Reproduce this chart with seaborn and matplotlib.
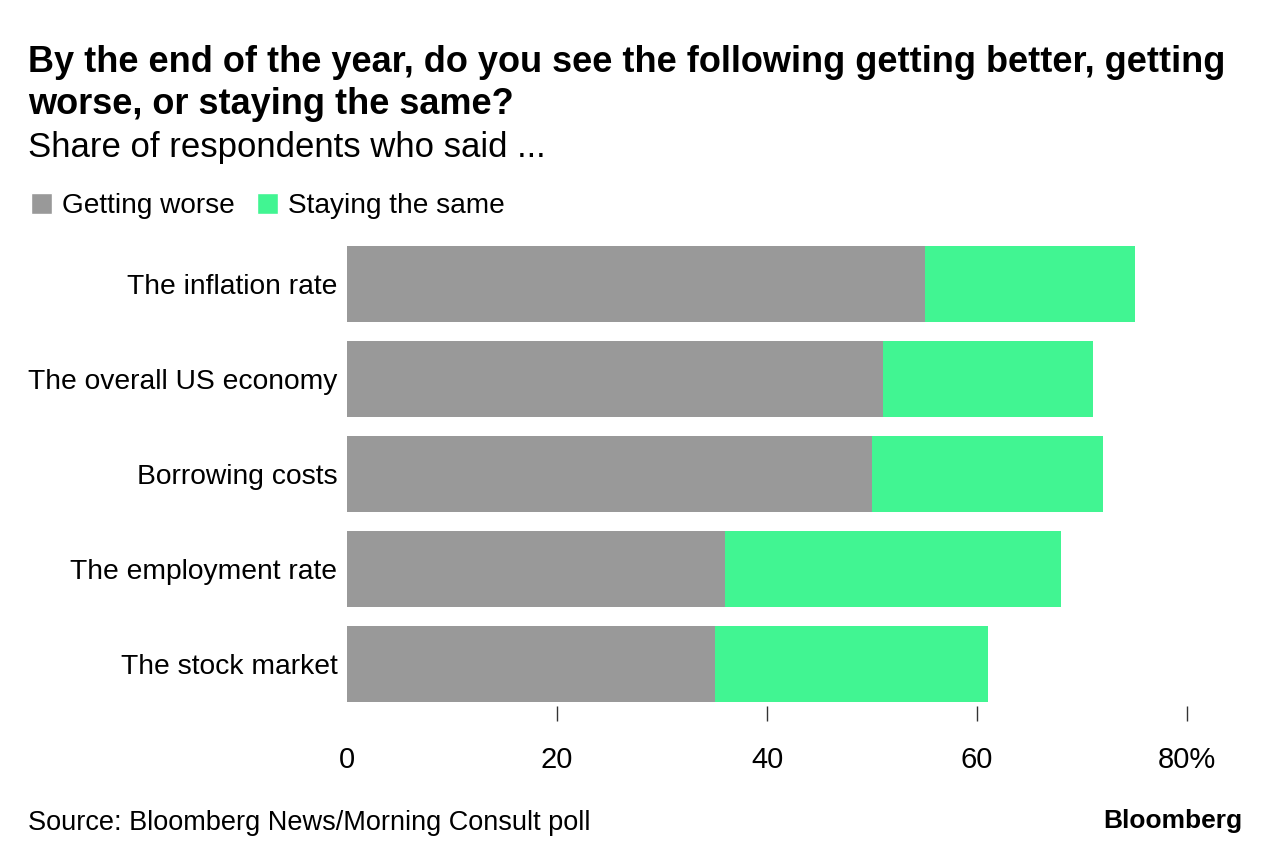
import matplotlib
matplotlib.use('Agg')
import matplotlib.pyplot as plt
from matplotlib.patches import Patch
import pandas as pd
import seaborn as sns

questions = ['The inflation rate', 'The overall US economy', 'Borrowing costs',
             'The employment rate', 'The stock market']
getting_worse = [55, 51, 50, 36, 35]
staying_same = [20, 20, 22, 32, 26]
x_ticks = [0, 20, 40, 60, 80]
x_tick_labels = ['0', '20', '40', '60', '80%']

gray = '#999999'
green = '#41F592'

df = pd.DataFrame({'Question': questions,
                   'Worse': getting_worse,
                   'Same': staying_same})
df['Total'] = df['Worse'] + df['Same']

sns.set_style('white')
plt.rcParams['font.family'] = ['Liberation Sans', 'DejaVu Sans']
plt.rcParams['text.color'] = 'black'

fig = plt.figure(figsize=(12.81, 8.64), dpi=100)
ax = fig.add_axes([347 / 1281, 1 - 706 / 864, 840 / 1281, 460 / 864])

# stacked bars: total first (green), then the gray part on top
sns.barplot(data=df, x='Total', y='Question', color=green, width=0.8,
            saturation=1, linewidth=0, ax=ax, order=questions)
sns.barplot(data=df, x='Worse', y='Question', color=gray, width=0.8,
            saturation=1, linewidth=0, ax=ax, order=questions)

ax.set_xlim(0, 80)
ax.set_ylim(4.442, -0.4)
ax.set_xlabel('')
ax.set_ylabel('')
sns.despine(ax=ax, left=True, bottom=True)

ax.set_xticks(x_ticks)
ax.set_xticklabels(x_tick_labels, fontsize=21)
ax.tick_params(axis='x', length=11, width=1, color='#333333', pad=18,
               direction='out', bottom=True, labelcolor='black')
ax.xaxis.get_major_ticks()[0].tick1line.set_visible(False)
ax.tick_params(axis='y', length=0, pad=7, labelsize=20.3, labelcolor='black')

fig.text(28 / 1281, 1 - 63 / 864,
         'By the end of the year, do you see the following getting better, getting',
         fontsize=26, fontweight='bold', ha='left', va='center')
fig.text(28 / 1281, 1 - 104 / 864, 'worse, or staying the same?',
         fontsize=26, fontweight='bold', ha='left', va='center')
fig.text(28 / 1281, 1 - 147 / 864, 'Share of respondents who said ...',
         fontsize=25, ha='left', va='center')

handles = [Patch(facecolor=gray, label='Getting worse'),
           Patch(facecolor=green, label='Staying the same')]
fig.legend(handles=handles, loc='center left', bbox_to_anchor=(20 / 1281, 1 - 206 / 864),
           ncol=2, frameon=False, fontsize=20.2, handlelength=0.75, handleheight=0.75,
           handletextpad=0.35, columnspacing=0.8, borderaxespad=0)

fig.text(28 / 1281, 1 - 823 / 864, 'Source: Bloomberg News/Morning Consult poll',
         fontsize=19.5, ha='left', va='center')
fig.text(1242 / 1281, 1 - 821 / 864, 'Bloomberg',
         fontsize=19, fontweight='bold', ha='right', va='center')

fig.savefig('out.png', dpi=100)
